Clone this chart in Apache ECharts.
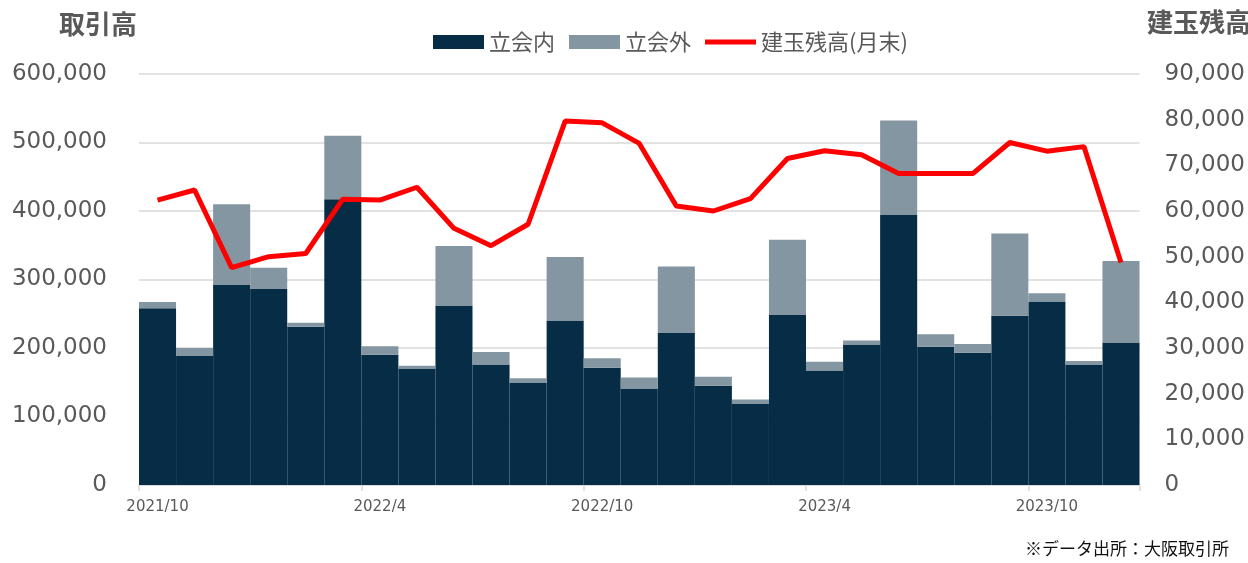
<!DOCTYPE html>
<html>
<head>
<meta charset="utf-8">
<script src="https://cdn.jsdelivr.net/npm/echarts@6/dist/echarts.min.js"></script>
<style>
html,body{margin:0;padding:0;background:#fff;}
#chart{width:1248px;height:563px;}
</style>
</head>
<body>
<div id="chart"></div>
<script>
const categories = ['2021/10','2021/11','2021/12','2022/1','2022/2','2022/3','2022/4','2022/5','2022/6','2022/7','2022/8','2022/9','2022/10','2022/11','2022/12','2023/1','2023/2','2023/3','2023/4','2023/5','2023/6','2023/7','2023/8','2023/9','2023/10','2023/11','2023/12'];
// 立会内 (on-floor) trading volume
const tachiaiNai = [258000,189000,292000,286000,231000,417000,190000,170000,262000,176000,149000,240000,171000,141000,222000,145000,119000,248000,167000,205000,394000,202000,193000,247000,268000,176000,208000];
// 立会外 (off-floor) trading volume
const tachiaiGai = [9000,11000,118000,31000,6000,93000,12500,4000,87000,18000,7000,93000,14000,16000,97000,13000,6000,110000,13000,6000,138000,18000,13000,120000,12000,5000,119000];
// 建玉残高(月末) open interest
const openInterest = [62400,64600,47600,50000,50700,62600,62400,65200,56200,52400,57100,79700,79300,74800,61100,60000,62700,71500,73200,72300,68200,68200,68200,75000,73100,74100,48700];
const leftTicks = {min:0, max:600000, interval:100000};
const rightTicks = {min:0, max:90000, interval:10000};

const chart = echarts.init(document.getElementById('chart'));
const numFmt = v => v.toLocaleString('en-US');
const axisLabelStyle = {color:'#595959', fontSize:23, fontFamily:'DejaVu Sans'};
chart.setOption({
  animation:false,
  textStyle:{fontFamily:'Noto Sans CJK JP'},
  grid:{left:139, right:108, top:74, bottom:78, containLabel:false},
  legend:{
    top:26, left:428,
    itemWidth:51, itemHeight:14, itemGap:14,
    textStyle:{color:'#595959', fontSize:22, fontFamily:'Noto Sans CJK JP'},
    data:[
      {name:'立会内', icon:'rect'},
      {name:'立会外', icon:'rect'},
      {name:'建玉残高(月末)', icon:'path://M0,0 L52,0 L52,5 L0,5 Z'}
    ]
  },
  graphic:[
    {type:'text', left:59, top:11, style:{text:'取引高', fill:'#595959', font:'bold 26px "Noto Sans CJK JP"'}},
    {type:'text', left:1147, top:9, style:{text:'建玉残高', fill:'#595959', font:'bold 26px "Noto Sans CJK JP"'}},
    {type:'text', right:19, top:540, style:{text:'※データ出所：大阪取引所', fill:'#111', font:'17px "Noto Sans CJK JP"'}}
  ],
  xAxis:{
    type:'category', data:categories, boundaryGap:true,
    axisLine:{lineStyle:{color:'#d9d9d9', width:1.5}},
    axisTick:{show:true, interval:5, length:6, lineStyle:{color:'#d9d9d9', width:1.5}},
    axisLabel:{interval:5, color:'#595959', fontSize:15, fontFamily:'DejaVu Sans', margin:15}
  },
  yAxis:[
    {type:'value', min:leftTicks.min, max:leftTicks.max, interval:leftTicks.interval,
     axisLine:{show:false}, axisTick:{show:false},
     splitLine:{lineStyle:{color:'#d9d9d9', width:1.5}},
     axisLabel:Object.assign({formatter:numFmt, margin:32}, axisLabelStyle)},
    {type:'value', min:rightTicks.min, max:rightTicks.max, interval:rightTicks.interval,
     axisLine:{show:false}, axisTick:{show:false}, splitLine:{show:false},
     axisLabel:Object.assign({formatter:numFmt, margin:25}, axisLabelStyle)}
  ],
  series:[
    {name:'立会内', type:'bar', stack:'vol', data:tachiaiNai, barCategoryGap:'0%', itemStyle:{color:'#062d45'}},
    {name:'立会外', type:'bar', stack:'vol', data:tachiaiGai, barCategoryGap:'0%', itemStyle:{color:'#8396a1'}},
    {name:'建玉残高(月末)', type:'line', yAxisIndex:1, data:openInterest, symbol:'none',
     lineStyle:{color:'#ff0000', width:5}, itemStyle:{color:'#ff0000'}, z:5}
  ]
});
</script>
</body>
</html>
